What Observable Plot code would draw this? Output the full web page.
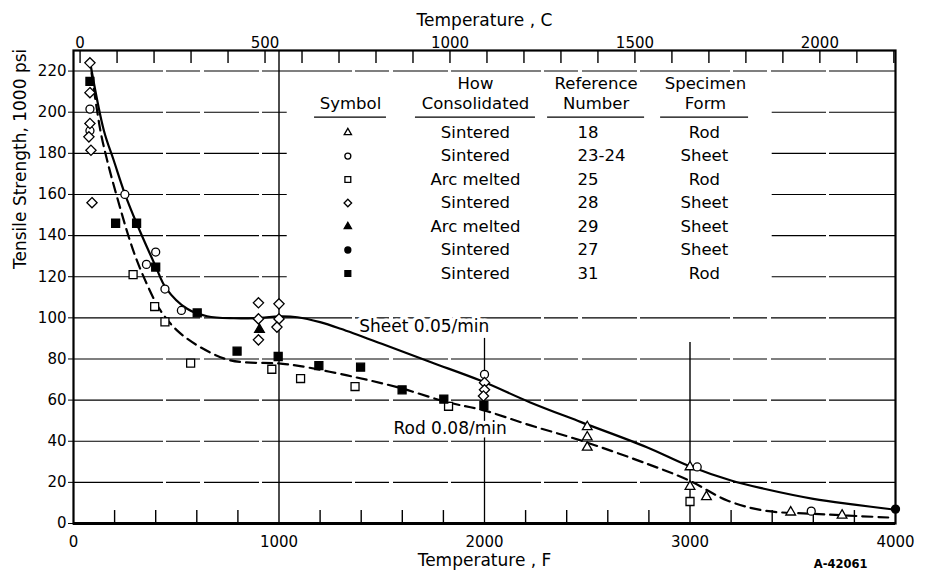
<!DOCTYPE html>
<html><head><meta charset="utf-8">
<script src="https://cdn.jsdelivr.net/npm/d3@7"></script>
<script src="https://cdn.jsdelivr.net/npm/@observablehq/plot@0.6"></script>
<style>body{margin:0;background:#fff}</style>
</head><body><div id="chart"></div>
<script>
// ---------------- data ----------------
const refNumbers      = ["18", "23-24", "25", "28", "29", "27", "31"];
const howConsolidated = ["Sintered", "Sintered", "Arc melted", "Sintered", "Arc melted", "Sintered", "Sintered"];
const specimenForm    = ["Rod", "Sheet", "Rod", "Sheet", "Sheet", "Sheet", "Rod"];
const symbolShapes    = ["triangle", "circle", "square", "diamond2", "triangle", "circle", "square"];
const symbolFilled    = [false, false, false, false, true, true, true];

// [temperature F, tensile strength 1000 psi]
const ref18   = [[2500,47],[2500,42],[2500,37],[3000,27.5],[3000,18],[3080,13],[3490,5.5],[3740,4]];
const ref2324 = [[80,201.5],[80,191],[250,160],[400,132],[355,126],[445,114],[525,103.6],[2000,72.5],[3035,27.5],[3590,6]];
const ref25   = [[290,121],[395,105.5],[445,98],[570,78],[965,75],[1105,70.5],[1370,66.6],[1825,57],[3000,10.7]];
const ref28   = [[80,224],[80,209.5],[80,194.5],[75,188],[85,181.5],[90,156],[900,107.3],[900,99.5],[900,89.3],[1000,106.8],[1000,99.5],[990,95.5],[2000,68.5],[2000,65],[1995,62]];
const ref29   = [[905,94.3]];
const ref27   = [[4000,7]];
const ref31   = [[80,215],[205,146],[307,146],[400,124.7],[602,102.4],[796,83.8],[996,81.2],[1194,76.8],[1397,76],[1599,65],[1802,60.5],[1997,57.4]];

const sheetCurve = [[85,222],[148,191],[196,176.5],[250,160.3],[307,146],[400,125],[450,114.5],[553,104.4],[650,100.8],[780,99.8],[910,100],[1000,100.7],[1090,100.3],[1200,97.9],[1300,94.7],[1500,87.4],[1740,78.4],[1980,69.5],[2220,59],[2470,49.3],[2790,37.1],[2990,28.2],[3200,20.9],[3360,16.9],[3600,12],[3800,9.2],[4000,6.7]];
const rodCurve   = [[88,219],[131,191],[164,176.5],[212,158.7],[285,134.4],[342,119.8],[423,103.6],[505,93.8],[618,85.7],[764,79.3],[1000,77.8],[1088,76.8],[1332,72],[1575,66.3],[1818,59],[1997,55],[2224,47.7],[2467,40.4],[2792,29],[2994,21],[3181,11.2],[3359,6.3],[3603,4.7],[3989,2.8]];
const curveLabels = ["Sheet 0.05/min", "Rod 0.08/min"];

const xTicks = [0, 1000, 2000, 3000, 4000];
const yTicks = [0, 20, 40, 60, 80, 100, 120, 140, 160, 180, 200, 220];
const cLabels = [0, 500, 1000, 1500, 2000];
const cMinor = d3.range(0, 2201, 100);
const fMinor = d3.range(200, 4000, 200).filter(f => f % 1000 !== 0);

// ---------------- layout (data units) ----------------
const LABEL_AT = [[1390, 95.8], [1557, 46.2]];
const L = {symX: 1335, howX: 1956, refX: 2453, formX: 3070,
           row0: 190.1, rowStep: 11.42, head1: 214, head2: 204.2, rule: 197.6,
           box: [1040, 3400, 112, 218]};
const headers = [
  {t: "Symbol", x: 1348, y: L.head2}, {t: "How", x: 1956, y: L.head1}, {t: "Consolidated", x: 1956, y: L.head2},
  {t: "Reference", x: 2543, y: L.head1}, {t: "Number", x: 2543, y: L.head2},
  {t: "Specimen", x: 3075, y: L.head1}, {t: "Form", x: 3075, y: L.head2}];
const underlines = [[1348, 175], [1956, 292], [2543, 236], [3071, 214]];
const C2F = c => c * 9 / 5 + 32;

const rows = refNumbers.map((ref, i) => ({i, ref, how: howConsolidated[i], form: specimenForm[i]}));
const rowY = d => L.row0 - L.rowStep * d.i;
const seriesPoints = [ref18, ref2324, ref25, ref28, ref29, ref27, ref31];
const rPlot = {triangle: 3.6, circle: 4, square: 4.5, diamond2: 4.6};
const rLeg  = {triangle: 2.7, circle: 3, square: 3.3, diamond2: 3.4};

const marks = [
  Plot.ruleY(yTicks.filter(v => v > 0), {stroke: "black", strokeWidth: 1.1, strokeDasharray: "90,3,34,4,55,3"}),
  Plot.rect([L.box], {x1: d => d[0], x2: d => d[1], y1: d => d[2], y2: d => d[3], fill: "white"}),
  Plot.ruleX([1000], {stroke: "black", strokeWidth: 1.4}),
  Plot.ruleX([2000], {y1: 0, y2: 90, stroke: "black", strokeWidth: 1.3}),
  Plot.ruleX([3000], {y1: 0, y2: 88, stroke: "black", strokeWidth: 1.4}),
  Plot.ruleX(fMinor, {y1: 0, y2: 6.3, stroke: "black", strokeWidth: 1.4}),
  Plot.ruleX(cMinor, {x: c => C2F(c), y1: 230, y2: 223.7, stroke: "black", strokeWidth: 1.4}),
  Plot.text(cLabels, {x: c => C2F(c), text: c => String(c), frameAnchor: "top", dy: -13, fontSize: 15}),
  Plot.text(["Temperature , C"], {text: d => d, frameAnchor: "top", dy: -37, fontSize: 17}),
  Plot.text(["Temperature , F"], {text: d => d, frameAnchor: "bottom", dy: 42, fontSize: 17}),
  Plot.text(["Tensile Strength, 1000 psi"], {text: d => d, frameAnchor: "left", dx: -53, dy: -18, rotate: -90, fontSize: 17}),
  Plot.text(["A-42061"], {text: d => d, frameAnchor: "bottom-right", dx: -28, dy: 44, fontSize: 11.5, fontWeight: "bold"}),
  Plot.text(curveLabels, {x: (d, i) => LABEL_AT[i][0], y: (d, i) => LABEL_AT[i][1], text: d => d, textAnchor: "start",
    fontSize: 17, fill: "black", stroke: "white", strokeWidth: 7}),
  Plot.line(sheetCurve, {x: d => d[0], y: d => d[1], curve: "catmull-rom", stroke: "black", strokeWidth: 2.2}),
  Plot.line(rodCurve, {x: d => d[0], y: d => d[1], curve: "catmull-rom", stroke: "black", strokeWidth: 2.2, strokeDasharray: "10,6"}),
  ...seriesPoints.map((pts, i) => Plot.dot(pts, {x: d => d[0], y: d => d[1], symbol: symbolShapes[i], r: rPlot[symbolShapes[i]],
    fill: symbolFilled[i] ? "black" : "white", stroke: "black", strokeWidth: 1.3})),
  // legend table
  Plot.text(headers, {x: d => d.x, y: d => d.y, text: d => d.t, fontSize: 16.5}),
  Plot.ruleY(underlines, {y: L.rule, x1: d => d[0] - d[1], x2: d => d[0] + d[1], stroke: "black", strokeWidth: 1.4}),
  ...rows.map(d => Plot.dot([d], {x: L.symX, y: rowY, symbol: symbolShapes[d.i], r: rLeg[symbolShapes[d.i]],
    fill: symbolFilled[d.i] ? "black" : "white", stroke: "black", strokeWidth: 1.3})),
  Plot.text(rows, {x: L.howX, y: rowY, text: d => d.how, fontSize: 16.5}),
  Plot.text(rows, {x: L.refX, y: rowY, text: d => d.ref, textAnchor: "start", fontSize: 16.5}),
  Plot.text(rows, {x: L.formX, y: rowY, text: d => d.form, fontSize: 16.5}),
  Plot.frame({stroke: "black", strokeWidth: 2.2}),
  Plot.ruleY([0], {stroke: "black", strokeWidth: 3.2})
];

const chart = Plot.plot({
  width: 926, height: 579,
  marginTop: 50, marginRight: 31, marginBottom: 56, marginLeft: 73,
  style: {fontFamily: "'DejaVu Sans', sans-serif", fontSize: "15px", color: "black", background: "white", overflow: "visible"},
  x: {domain: [0, 4000], ticks: xTicks, tickFormat: d => String(d), tickSize: 0, tickPadding: 13, label: null},
  y: {domain: [0, 230], ticks: yTicks, tickFormat: d => String(d), tickSize: 5, tickPadding: 2, label: null},
  marks
});
document.getElementById("chart").append(chart);
</script>
</body></html>
